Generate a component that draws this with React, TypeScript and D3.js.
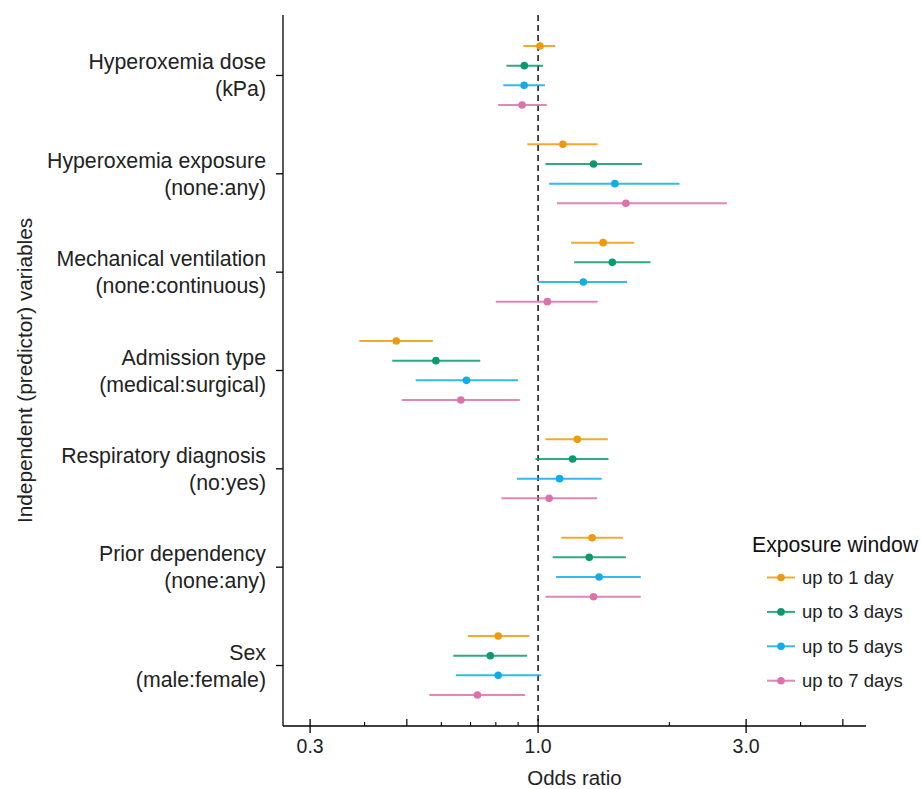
import React from "react";
import * as d3 from "d3";

const labelTop = [
  "Hyperoxemia dose",
  "Hyperoxemia exposure",
  "Mechanical ventilation",
  "Admission type",
  "Respiratory diagnosis",
  "Prior dependency",
  "Sex",
];
const labelBottom = [
  "(kPa)",
  "(none:any)",
  "(none:continuous)",
  "(medical:surgical)",
  "(no:yes)",
  "(none:any)",
  "(male:female)",
];

const windows = ["up to 1 day", "up to 3 days", "up to 5 days", "up to 7 days"];
const colors = ["#EE9A0E", "#0A9A6E", "#12ACE6", "#DB72AA"];

// odds ratio, lower and upper CI per exposure window (one value per predictor)
const or1 = [1.01, 1.14, 1.41, 0.473, 1.23, 1.33, 0.81];
const lo1 = [0.925, 0.945, 1.19, 0.389, 1.04, 1.13, 0.69];
const hi1 = [1.095, 1.37, 1.66, 0.574, 1.445, 1.565, 0.955];

const or3 = [0.93, 1.34, 1.48, 0.583, 1.2, 1.31, 0.777];
const lo3 = [0.846, 1.04, 1.21, 0.463, 0.986, 1.08, 0.639];
const hi3 = [1.027, 1.73, 1.81, 0.737, 1.45, 1.59, 0.944];

const or5 = [0.929, 1.5, 1.27, 0.685, 1.12, 1.38, 0.81];
const lo5 = [0.832, 1.06, 1.0, 0.524, 0.895, 1.1, 0.648];
const hi5 = [1.037, 2.11, 1.6, 0.9, 1.4, 1.72, 1.016];

const or7 = [0.919, 1.59, 1.05, 0.665, 1.06, 1.34, 0.726];
const lo7 = [0.81, 1.105, 0.8, 0.487, 0.824, 1.04, 0.563];
const hi7 = [1.047, 2.71, 1.37, 0.908, 1.366, 1.72, 0.934];

const majorTicks = [0.3, 1, 3];
const midTicks = [0.5, 5];
const minorTicks = [0.4, 0.6, 0.7, 0.8, 0.9, 2, 4];

const W = 921;
const H = 789;
const left = 283;
const right = 866;
const top = 15;
const bottom = 726;
const font = "'Liberation Sans', Arial, Helvetica, sans-serif";

export default function App() {
  const x = d3.scaleLog().domain([0.26, 5.65]).range([left, right]);
  const y = d3
    .scalePoint<string>()
    .domain(labelTop)
    .range([top, bottom])
    .padding(0.615);
  const dodge = d3.scalePoint<string>().domain(windows).range([-29.5, 29.5]);

  const series = [
    { or: or1, lo: lo1, hi: hi1 },
    { or: or3, lo: lo3, hi: hi3 },
    { or: or5, lo: lo5, hi: hi5 },
    { or: or7, lo: lo7, hi: hi7 },
  ];

  return (
    <svg
      width={W}
      height={H}
      style={{ position: "absolute", left: 0, top: 0, background: "#fff" }}
      fontFamily={font}
    >
      {/* reference line at OR = 1 */}
      <line
        x1={x(1)}
        x2={x(1)}
        y1={top}
        y2={bottom}
        stroke="#222"
        strokeWidth={1.6}
        strokeDasharray="6,4"
      />

      {series.map((s, w) => (
        <g key={windows[w]}>
          {labelTop.map((cat, i) => {
            const cy = (y(cat) as number) + (dodge(windows[w]) as number);
            return (
              <g key={cat}>
                <line
                  x1={x(s.lo[i])}
                  x2={x(s.hi[i])}
                  y1={cy}
                  y2={cy}
                  stroke={colors[w]}
                  strokeWidth={2}
                  strokeOpacity={0.85}
                />
                <circle cx={x(s.or[i])} cy={cy} r={3.8} fill={colors[w]} />
              </g>
            );
          })}
        </g>
      ))}

      {/* axes */}
      <line x1={left} x2={left} y1={top} y2={bottom} stroke="#000" strokeWidth={1.3} />
      <line x1={left} x2={right} y1={bottom} y2={bottom} stroke="#000" strokeWidth={1.3} />

      {labelTop.map((cat, i) => {
        const ty = y(cat) as number;
        return (
          <g key={cat}>
            <line x1={left - 7} x2={left} y1={ty} y2={ty} stroke="#000" strokeWidth={1.3} />
            <text x={266} y={ty - 6} textAnchor="end" fontSize={21.3} fill="#222">
              {cat}
            </text>
            <text x={266} y={ty + 21} textAnchor="end" fontSize={21.3} fill="#222">
              {labelBottom[i]}
            </text>
          </g>
        );
      })}

      {majorTicks.map((t) => (
        <g key={t}>
          <line x1={x(t)} x2={x(t)} y1={bottom - 7} y2={bottom + 7} stroke="#000" strokeWidth={1.3} />
          <text x={x(t)} y={bottom + 27} textAnchor="middle" fontSize={19.5} fill="#222">
            {d3.format(".1f")(t)}
          </text>
        </g>
      ))}
      {midTicks.map((t) => (
        <line key={t} x1={x(t)} x2={x(t)} y1={bottom - 7} y2={bottom} stroke="#000" strokeWidth={1.2} />
      ))}
      {minorTicks.map((t) => (
        <line key={t} x1={x(t)} x2={x(t)} y1={bottom - 4} y2={bottom} stroke="#000" strokeWidth={1.1} />
      ))}

      <text x={(left + right) / 2} y={785} textAnchor="middle" fontSize={20.5} fill="#222">
        Odds ratio
      </text>
      <text
        transform={`translate(32, ${(top + bottom) / 2}) rotate(-90)`}
        textAnchor="middle"
        fontSize={20.8}
        fill="#222"
      >
        Independent (predictor) variables
      </text>

      {/* legend */}
      <text x={752} y={552} fontSize={21.2} fill="#111">
        Exposure window
      </text>
      {windows.map((w, i) => {
        const ly = 577.5 + i * 34.4;
        return (
          <g key={w}>
            <line x1={767} x2={795} y1={ly} y2={ly} stroke={colors[i]} strokeWidth={2} strokeOpacity={0.85} />
            <circle cx={781} cy={ly} r={3.8} fill={colors[i]} />
            <text x={802} y={ly + 6.5} fontSize={18.5} fill="#222">
              {w}
            </text>
          </g>
        );
      })}
    </svg>
  );
}
